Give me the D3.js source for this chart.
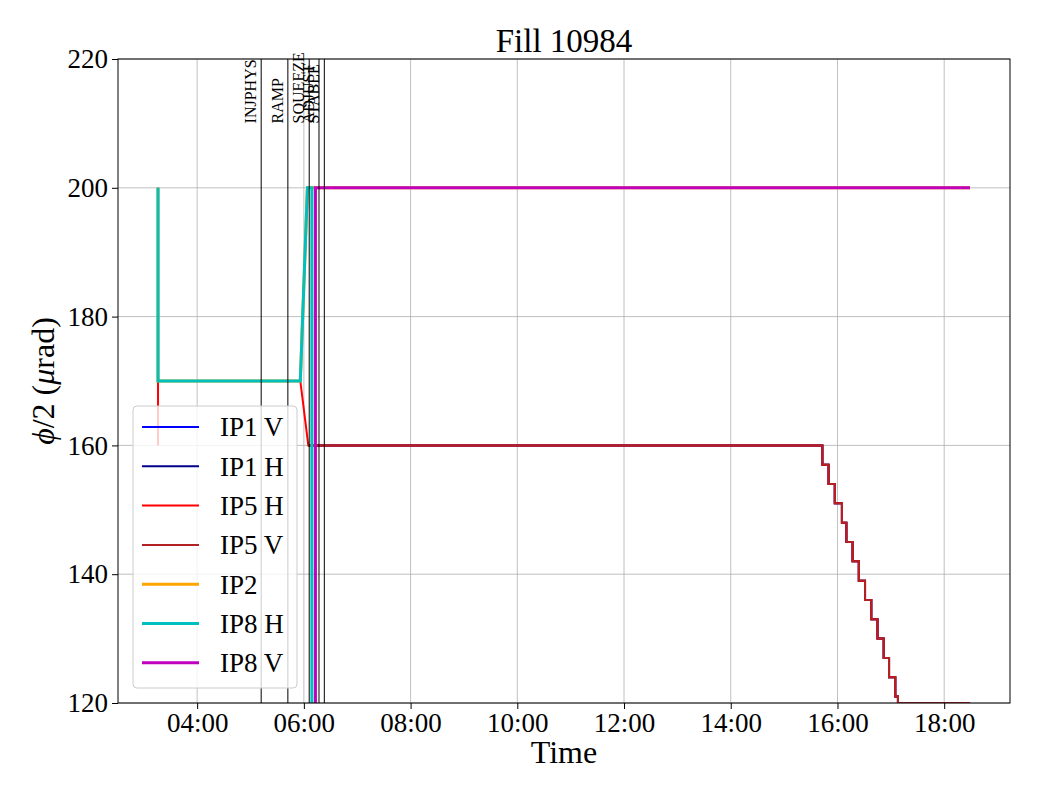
<!DOCTYPE html>
<html>
<head>
<meta charset="utf-8">
<script src="https://cdn.jsdelivr.net/npm/d3@7"></script>
<style>
  body { margin: 0; background: #ffffff; }
  text { font-family: "Liberation Serif", "DejaVu Serif", serif; fill: #000; }
</style>
</head>
<body>
<svg id="chart" width="1040" height="800"></svg>
<script>
// ---- data ----
const seriesNames  = ["IP1 V", "IP1 H", "IP5 H", "IP5 V", "IP2", "IP8 H", "IP8 V"];
const seriesColors = ["#0000ff", "#00008b", "#ff0000", "#b22222", "#ffa500", "#00bfbf", "#bf00bf"];
const seriesWidths = [2, 2, 2, 2, 3, 3, 3];

// levelling staircase of IP1 / IP5 at the end of the fill
const levelTimes  = ["15:43", "15:50", "15:57", "16:05", "16:10", "16:17", "16:24", "16:31", "16:38", "16:45", "16:52", "16:58", "17:05", "17:08"];
const levelValues = [157, 154, 151, 148, 145, 142, 139, 136, 133, 130, 127, 124, 121, 120];
const fillEnd = "18:29";

const ip5hStart = [["03:16", 160], ["03:16", 200], ["03:16", 170], ["05:56", 170], ["06:05", 160]];
const ip1Start  = [["06:05", 160]];
const ip2Points  = [["03:16", 200], ["03:16", 170], ["05:56", 170], ["06:04", 200], ["18:29", 200]];
const ip8hPoints = [["03:16", 200], ["03:16", 170], ["05:56", 170], ["06:04", 200], ["06:09", 200], ["06:09", -170], ["18:29", -170]];
const ip8vPoints = [["03:16", -200], ["06:13", -200], ["06:13", 200], ["18:29", 200]];

// beam modes
const modeNames = ["INJPHYS", "RAMP", "SQUEEZE", "ADJUST", "STABLE"];
const modeTimes = ["05:12", "05:42", "06:06", "06:17", "06:23"];

const xLimits = ["02:31", "19:14"];
const yLimits = [120, 220];
const yTicks = [120, 140, 160, 180, 200, 220];

// step corners for a staircase (same as a step-after drawstyle)
function stairs(startValue, times, values, endTime) {
    const pts = [];
    let v = startValue;
    times.forEach((t, i) => {
        pts.push([t, v]);
        pts.push([t, values[i]]);
        v = values[i];
    });
    pts.push([endTime, v]);
    return pts;
}

const levelling = stairs(160, levelTimes, levelValues, fillEnd);
const seriesPoints = [
    ip1Start.concat(levelling),
    ip1Start.concat(levelling),
    ip5hStart.concat(levelling),
    ip1Start.concat(levelling),
    ip2Points,
    ip8hPoints,
    ip8vPoints
];

// ---- layout ----
const margin = { left: 118, right: 1010, top: 59, bottom: 703 };
const parseTime = d3.timeParse("%H:%M");

const svg = d3.select("#chart");

const x = d3.scaleTime()
    .domain(xLimits.map(parseTime))
    .range([margin.left, margin.right]);

const y = d3.scaleLinear()
    .domain(yLimits)
    .range([margin.bottom, margin.top]);

const xTicks = d3.timeHour.every(2).range(parseTime("04:00"), parseTime("19:00"));

svg.append("defs").append("clipPath").attr("id", "plot-area")
    .append("rect")
    .attr("x", margin.left)
    .attr("y", margin.top)
    .attr("width", margin.right - margin.left)
    .attr("height", margin.bottom - margin.top);

// grid
const grid = svg.append("g").attr("class", "grid");
grid.selectAll("line.gx").data(xTicks).enter().append("line")
    .attr("x1", d => x(d)).attr("x2", d => x(d))
    .attr("y1", margin.top).attr("y2", margin.bottom)
    .style("stroke", "#b0b0b0").style("stroke-width", 0.8);
grid.selectAll("line.gy").data(yTicks).enter().append("line")
    .attr("x1", margin.left).attr("x2", margin.right)
    .attr("y1", d => y(d)).attr("y2", d => y(d))
    .style("stroke", "#b0b0b0").style("stroke-width", 0.8);

// series
const line = d3.line()
    .x(d => x(parseTime(d[0])))
    .y(d => y(d[1]));

const plot = svg.append("g").attr("clip-path", "url(#plot-area)");
seriesNames.forEach((name, i) => {
    plot.append("path")
        .datum(seriesPoints[i])
        .attr("d", line)
        .style("fill", "none")
        .style("stroke", seriesColors[i])
        .style("stroke-width", seriesWidths[i])
        .style("stroke-linejoin", "miter");
});

// beam mode markers
const modes = svg.append("g");
modeNames.forEach((name, i) => {
    const mx = x(parseTime(modeTimes[i]));
    modes.append("line")
        .attr("x1", mx).attr("x2", mx)
        .attr("y1", margin.top).attr("y2", margin.bottom)
        .style("stroke", "#000").style("stroke-width", 1);
    modes.append("text")
        .attr("transform", "translate(" + (mx - 5) + "," + y(210) + ") rotate(-90)")
        .attr("text-anchor", "start")
        .style("font-size", "16px")
        .text(name);
});

// axes
const xAxis = svg.append("g")
    .attr("transform", "translate(0," + margin.bottom + ")")
    .call(d3.axisBottom(x).tickValues(xTicks).tickFormat(d3.timeFormat("%H:%M"))
        .tickSize(6).tickPadding(4).tickSizeOuter(0));
const yAxis = svg.append("g")
    .attr("transform", "translate(" + margin.left + ",0)")
    .call(d3.axisLeft(y).tickValues(yTicks).tickSize(6).tickPadding(4).tickSizeOuter(0));

[xAxis, yAxis].forEach(a => {
    a.select(".domain").remove();
    a.selectAll("line").style("stroke", "#000");
    a.selectAll("text").style("font-size", "27px").style("font-family", "'Liberation Serif', serif");
});

svg.append("rect")
    .attr("x", margin.left).attr("y", margin.top)
    .attr("width", margin.right - margin.left)
    .attr("height", margin.bottom - margin.top)
    .style("fill", "none").style("stroke", "#000").style("stroke-width", 1);

// title and labels
svg.append("text")
    .attr("x", (margin.left + margin.right) / 2).attr("y", 52)
    .attr("text-anchor", "middle")
    .style("font-size", "33px")
    .text("Fill 10984");

svg.append("text")
    .attr("x", (margin.left + margin.right) / 2).attr("y", 763)
    .attr("text-anchor", "middle")
    .style("font-size", "32px")
    .text("Time");

const ylab = svg.append("text")
    .attr("transform", "translate(54," + (margin.top + margin.bottom) / 2 + ") rotate(-90)")
    .attr("text-anchor", "middle")
    .style("font-size", "32px");
ylab.append("tspan").style("font-style", "italic").text("ϕ");
ylab.append("tspan").text("/2 (");
ylab.append("tspan").style("font-style", "italic").text("μ");
ylab.append("tspan").text("rad)");

// legend
const legend = svg.append("g");
legend.append("rect")
    .attr("x", 133).attr("y", 406)
    .attr("width", 164).attr("height", 282)
    .attr("rx", 4)
    .style("fill", "#ffffff").style("fill-opacity", 0.8)
    .style("stroke", "#cccccc").style("stroke-width", 1);

const rows = legend.selectAll("g.row").data(seriesNames).enter().append("g")
    .attr("transform", (d, i) => "translate(0," + (427 + i * 39.3) + ")");
rows.append("line")
    .attr("x1", 142).attr("x2", 199)
    .style("stroke", (d, i) => seriesColors[i])
    .style("stroke-width", (d, i) => seriesWidths[i]);
rows.append("text")
    .attr("x", 220).attr("dy", "0.35em")
    .style("font-size", "27px")
    .text(d => d);
</script>
</body>
</html>
